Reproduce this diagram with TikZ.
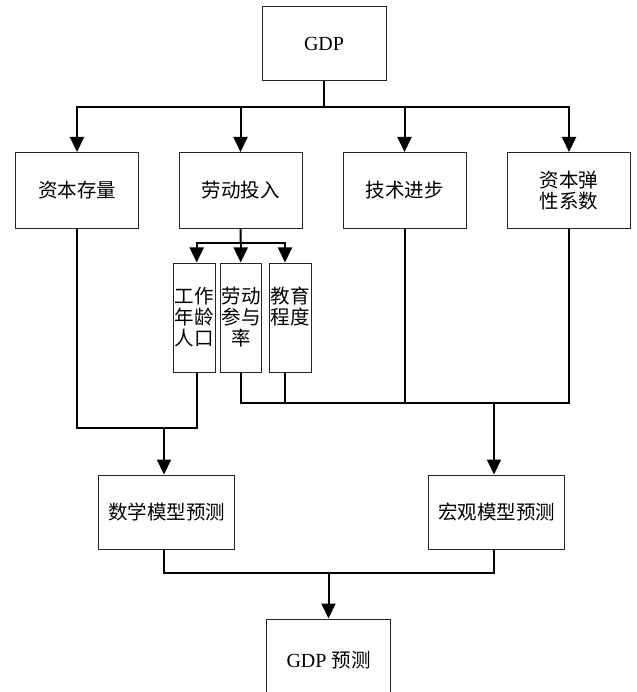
\documentclass[tikz,border=0pt]{standalone}
\usepackage{fontspec}
\setmainfont{Liberation Serif}
\newfontfamily\cjk{Noto Sans CJK SC}
\usetikzlibrary{arrows.meta,calc}
\begin{document}
\begin{tikzpicture}[x=1pt,y=-1pt,
  box/.style={draw=black!85,line width=1pt,inner sep=0pt,align=center,
    font=\cjk\fontsize{19.5}{21.5}\selectfont},
  bigbox/.style={box,minimum width=123pt,minimum height=76pt},
  modbox/.style={box,minimum width=136pt,minimum height=74pt},
  smallbox/.style={box,minimum width=42pt,minimum height=109pt},
  smalltxt/.style={inner sep=0pt,anchor=north,align=center,
    font=\cjk\fontsize{19.5}{21}\selectfont},
  conn/.style={line width=2pt},
  arr/.style={conn,-{Triangle[width=14pt,length=15pt]}}
]
\useasboundingbox (0,0) rectangle (636,692);
\clip (0,0) rectangle (636,692);

% nodes
\node[box,minimum width=124pt,minimum height=74pt,font=\fontsize{20}{24}\selectfont] (gdp) at (324,44) {GDP};
\node[bigbox] (cap) at (77,190.5) {资本存量};
\node[bigbox] (lab) at (240.5,190.5) {劳动投入};
\node[bigbox] (tec) at (404.5,190.5) {技术进步};
\node[bigbox] (ela) at (569,190.5) {资本弹\\性系数};

\node[smallbox] (sa) at (194,317.5) {};
\node[smallbox,minimum width=41pt] (sb) at (241.2,317.5) {};
\node[smallbox] (sc) at (290,317.5) {};
\node[smalltxt] (ta) at ($(sa.north)+(0,24)$) {工作\\年龄\\人口};
\node[smalltxt] (tb) at ($(sb.north)+(0,24)$) {劳动\\参与\\率};
\node[smalltxt] (tc) at ($(sc.north)+(0,24)$) {教育\\程度};

\node[modbox] (math) at (166.5,512) {数学模型预测};
\node[modbox] (macro) at (496.5,512) {宏观模型预测};
\node[box,minimum width=124pt,minimum height=82pt] (pred) at (328.5,660)
  {\rmfamily\fontsize{20}{24}\selectfont GDP {\cjk\fontsize{19.5}{21.5}\selectfont 预测}};

% coordinates
\coordinate (bus1) at (324,107);
\coordinate (bus2) at (240.7,243);
\coordinate (ax) at (196.7,243);
\coordinate (cx) at (285,243);
\coordinate (j1) at (164,428);
\coordinate (ja) at (196.7,372);
\coordinate (jc) at (285,372);
\coordinate (j2) at (494,403);
\coordinate (j3) at (328.5,573);

% top fan-out
\draw[conn] (gdp.south) -- (bus1);
\draw[arr] (bus1) -| (cap.north);
\draw[arr] (bus1) -| (lab.north);
\draw[arr] (bus1) -| (tec.north);
\draw[arr] (bus1) -| (ela.north);

% labour sub-factors
\draw[conn] (lab.south) -- (bus2);
\draw[arr] (bus2) -- (ax) -- (ax |- sa.north);
\draw[arr] (bus2) -- (bus2 |- sb.north);
\draw[arr] (bus2) -- (cx) -- (cx |- sc.north);

% left merge
\draw[conn] (cap.south) |- (j1);
\draw[conn] (ja |- sa.south) |- (j1);
\draw[arr] (j1) -- (j1 |- math.north);

% right merge
\draw[conn] (sb.south) |- (ela.south |- j2) -- (ela.south);
\draw[conn] (jc |- sc.south) -- (jc |- j2);
\draw[conn] (tec.south) -- (tec.south |- j2);
\draw[arr] (j2) -- (j2 |- macro.north);

% bottom merge
\draw[conn] (j1 |- math.south) |- (j3) -| (j2 |- macro.south);
\draw[arr] (j3) -- (pred.north);
\end{tikzpicture}
\end{document}
